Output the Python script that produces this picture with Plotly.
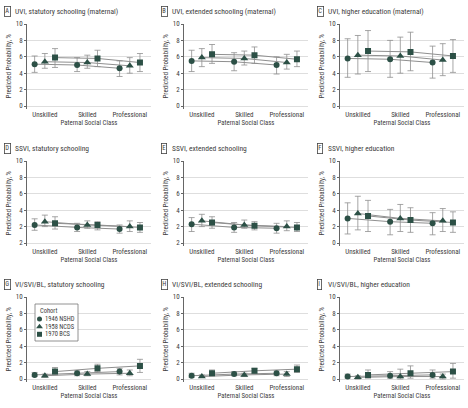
import plotly.graph_objects as go

W, H = 468, 408
classes = ["Unskilled", "Skilled", "Professional"]
cohorts = ["1946 NSHD", "1958 NCDS", "1970 BCS"]
symbols = ["circle", "triangle-up", "square"]

letters = ["A", "B", "C", "D", "E", "F", "G", "H", "I"]
titles = ["UVI, statutory schooling (maternal)", "UVI, extended schooling (maternal)",
          "UVI, higher education (maternal)", "SSVI, statutory schooling",
          "SSVI, extended schooling", "SSVI, higher education",
          "VI/SVI/BL, statutory schooling", "VI/SVI/BL, extended schooling",
          "VI/SVI/BL, higher education"]

# estimates [cohort][class]
A_est = [[5.1, 5.0, 4.6], [5.4, 5.3, 4.9], [5.9, 5.8, 5.3]]
A_lo = [[4.1, 4.2, 3.6], [4.6, 4.6, 4.0], [4.7, 4.8, 4.2]]
A_hi = [[6.1, 5.9, 5.5], [6.4, 6.2, 5.9], [7.0, 6.8, 6.4]]
B_est = [[5.5, 5.4, 5.0], [5.9, 5.8, 5.3], [6.3, 6.2, 5.7]]
B_lo = [[4.2, 4.3, 3.9], [4.8, 5.0, 4.5], [5.2, 5.2, 4.8]]
B_hi = [[6.8, 6.5, 6.0], [7.0, 6.7, 6.3], [7.5, 7.2, 6.7]]
C_est = [[5.8, 5.7, 5.3], [6.2, 6.1, 5.6], [6.7, 6.6, 6.1]]
C_lo = [[3.5, 3.5, 3.4], [3.9, 4.0, 3.7], [4.2, 4.3, 4.1]]
C_hi = [[8.2, 8.0, 7.3], [8.6, 8.4, 7.6], [9.2, 9.0, 8.1]]
D_est = [[2.2, 1.9, 1.7], [2.6, 2.2, 2.0], [2.4, 2.2, 1.9]]
D_lo = [[1.55, 1.4, 1.2], [2.0, 1.8, 1.4], [1.7, 1.6, 1.3]]
D_hi = [[2.95, 2.4, 2.2], [3.4, 2.7, 2.7], [3.2, 2.6, 2.5]]
E_est = [[2.3, 1.9, 1.8], [2.7, 2.2, 2.0], [2.5, 2.1, 1.9]]
E_lo = [[1.4, 1.3, 1.2], [2.0, 1.8, 1.5], [1.8, 1.6, 1.4]]
E_hi = [[3.1, 2.5, 2.4], [3.5, 2.8, 2.7], [3.2, 2.6, 2.5]]
F_est = [[3.0, 2.6, 2.4], [3.6, 3.0, 2.7], [3.3, 2.8, 2.5]]
F_lo = [[1.1, 1.0, 1.0], [1.6, 1.4, 1.4], [1.4, 1.3, 1.3]]
F_hi = [[4.9, 4.1, 3.7], [5.7, 4.7, 4.2], [5.2, 4.3, 3.8]]
G_est = [[0.5, 0.7, 0.9], [0.4, 0.6, 0.7], [0.9, 1.3, 1.6]]
G_lo = [[0.3, 0.4, 0.5], [0.2, 0.4, 0.4], [0.5, 0.9, 0.8]]
G_hi = [[0.8, 1.0, 1.3], [0.6, 0.9, 1.1], [1.4, 1.8, 2.4]]
H_est = [[0.4, 0.6, 0.7], [0.3, 0.5, 0.6], [0.7, 1.0, 1.2]]
H_lo = [[0.2, 0.4, 0.4], [0.2, 0.3, 0.3], [0.4, 0.7, 0.8]]
H_hi = [[0.7, 0.9, 1.0], [0.5, 0.7, 0.9], [1.1, 1.3, 1.7]]
I_est = [[0.3, 0.4, 0.5], [0.2, 0.3, 0.3], [0.5, 0.7, 0.9]]
I_lo = [[0.1, 0.1, 0.1], [0.0, 0.0, 0.0], [0.1, 0.1, 0.1]]
I_hi = [[0.6, 0.9, 1.1], [0.4, 1.2, 0.6], [1.1, 1.6, 1.9]]

panels = [(A_est, A_lo, A_hi), (B_est, B_lo, B_hi), (C_est, C_lo, C_hi),
          (D_est, D_lo, D_hi), (E_est, E_lo, E_hi), (F_est, F_lo, F_hi),
          (G_est, G_lo, G_hi), (H_est, H_lo, H_hi), (I_est, I_lo, I_hi)]

y_tickvals = [0, 2, 4, 6, 8, 10]
y_ticktext = ["0", "2", "4", "6", "8", "10"]
y_ticktext_de = ["2", "2", "4", "6", "8", "10"]

GREEN = "#2c5046"
GREY = "#8f8f8f"
FONT = "Liberation Sans Narrow, Arial Narrow, Roboto Condensed, Lato, sans-serif"
TXT = "#3c3c3c"

col_px = [(27, 151), (184, 308), (340, 464)]
row_px = [(24, 106), (161, 243), (297, 379)]  # (y of 10, y of 0)
title_y = [11, 148, 284]
letter_x = [4, 161, 317]

offs = [-0.24, 0.0, 0.24]
YR = [-0.35, 10.05]
XR = [-0.42, 2.5]

fig = go.Figure()
layout = dict(width=W, height=H, margin=dict(l=0, r=0, t=0, b=0, autoexpand=False),
              paper_bgcolor="white", plot_bgcolor="white",
              font=dict(family=FONT, size=7, color=TXT),
              showlegend=False)
annotations = []
shapes = []

for p in range(9):
    r, c = divmod(p, 3)
    est, lo, hi = panels[p]
    ax = "" if p == 0 else str(p + 1)
    xref, yref = "x" + ax, "y" + ax
    for k in range(3):
        xs = [i + offs[k] for i in range(3)]
        fig.add_trace(go.Scatter(x=xs, y=est[k], mode="lines", xaxis=xref, yaxis=yref,
                                 line=dict(color=GREY, width=1), hoverinfo="skip"))
    for k in range(3):
        xs = [i + offs[k] for i in range(3)]
        fig.add_trace(go.Scatter(
            x=xs, y=est[k], mode="markers", xaxis=xref, yaxis=yref, name=cohorts[k],
            marker=dict(symbol=symbols[k], color=GREEN, size=6 if k != 1 else 7),
            error_y=dict(type="data", symmetric=False,
                         array=[h - e for h, e in zip(hi[k], est[k])],
                         arrayminus=[e - l for e, l in zip(est[k], lo[k])],
                         color=GREY, thickness=0.8, width=3)))
    x0, x1 = col_px[c]
    pt, pb = row_px[r]
    kpx = (pb - pt) / 10.0
    yb = pb - YR[0] * kpx
    yt = pt - (YR[1] - 10) * kpx
    layout["xaxis" + ax] = dict(domain=[x0 / W, x1 / W], range=XR, anchor=yref,
                                tickvals=[0, 1, 2], ticktext=classes, showgrid=False,
                                zeroline=False, showline=False, ticks="", automargin=False,
                                tickfont=dict(size=7),
                                title=dict(text="Paternal Social Class", font=dict(size=6.8), standoff=1))
    layout["yaxis" + ax] = dict(domain=[1 - yb / H, 1 - yt / H], range=YR, anchor=xref,
                                tickvals=y_tickvals,
                                ticktext=y_ticktext_de if p in (3, 4) else y_ticktext,
                                showgrid=True, gridcolor="#dedede", gridwidth=0.8,
                                zeroline=False, showline=True, linecolor="#666", linewidth=0.8,
                                ticks="outside", ticklen=2, tickcolor="#666", automargin=False,
                                tickfont=dict(size=7),
                                title=dict(text="Predicted Probability, %", font=dict(size=7), standoff=3))
    annotations.append(dict(x=letter_x[c] / W, y=1 - title_y[r] / H, xref="paper", yref="paper",
                            text=letters[p], showarrow=False, xanchor="left", yanchor="middle",
                            font=dict(size=6.5, color=TXT), bordercolor="#444", borderwidth=0.8,
                            borderpad=0.5))
    annotations.append(dict(x=(letter_x[c] + 9) / W, y=1 - title_y[r] / H, xref="paper", yref="paper",
                            text=titles[p], showarrow=False, xanchor="left", yanchor="middle",
                            font=dict(size=7.5, color=TXT)))

# custom compact legend (inset axes in pixel units) inside panel G
LB = (35, 304, 78, 341)  # left, top, right, bottom in px
leg_y = [319, 326.7, 334.3]
for k in range(3):
    fig.add_trace(go.Scatter(x=[39.5], y=[leg_y[k]], mode="markers", xaxis="x10", yaxis="y10",
                             marker=dict(symbol=symbols[k], color=GREEN, size=5 if k != 1 else 6),
                             hoverinfo="skip"))
    annotations.append(dict(x=43, y=leg_y[k], xref="x10", yref="y10", text=cohorts[k],
                            showarrow=False, xanchor="left", yanchor="middle",
                            font=dict(size=6.5, color=TXT)))
annotations.append(dict(x=38, y=311, xref="x10", yref="y10", text="Cohort", showarrow=False,
                        xanchor="left", yanchor="middle", font=dict(size=6.5, color=TXT)))
layout["xaxis10"] = dict(domain=[LB[0] / W, LB[2] / W], range=[LB[0], LB[2]], visible=False,
                         anchor="y10", fixedrange=True)
layout["yaxis10"] = dict(domain=[1 - LB[3] / H, 1 - LB[1] / H], range=[LB[3], LB[1]], visible=False,
                         anchor="x10", fixedrange=True)
shapes.append(dict(type="rect", xref="paper", yref="paper", x0=LB[0] / W, x1=LB[2] / W,
                   y0=1 - LB[3] / H, y1=1 - LB[1] / H, line=dict(color="#777", width=0.8),
                   fillcolor="rgba(0,0,0,0)", layer="above"))

layout["annotations"] = annotations
layout["shapes"] = shapes
fig.update_layout(**layout)
fig.write_html("out.html", config={"displayModeBar": False},
               post_script="document.body.style.margin='0';document.body.style.padding='0';")
